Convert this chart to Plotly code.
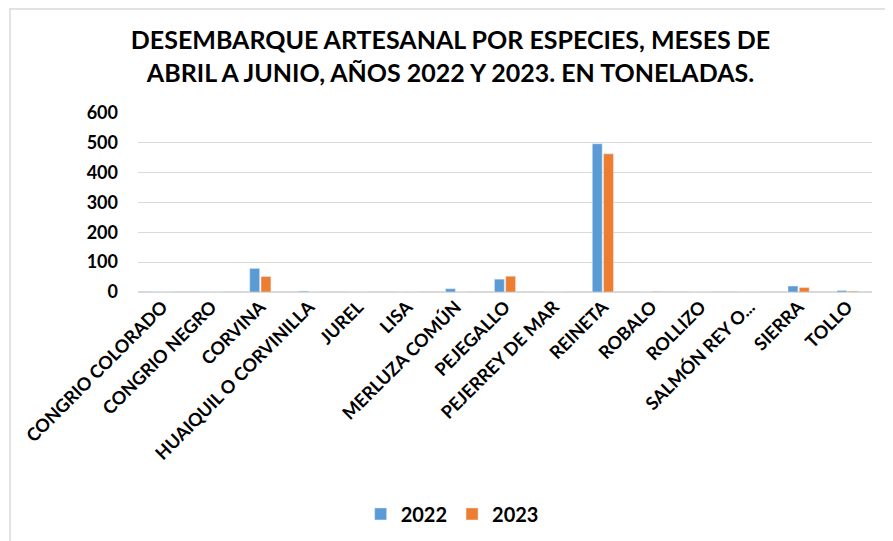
import plotly.graph_objects as go

categories = ["CONGRIO COLORADO", "CONGRIO NEGRO", "CORVINA", "HUAIQUIL O CORVINILLA",
              "JUREL", "LISA", "MERLUZA COMÚN", "PEJEGALLO", "PEJERREY DE MAR",
              "REINETA", "ROBALO", "ROLLIZO", "SALMÓN REY O...", "SIERRA", "TOLLO"]
v2022 = [0, 0, 79, 3, 0, 0, 11, 43, 0, 497, 0, 0, 0, 20, 5]
v2023 = [0, 0, 52, 0, 0, 0, 0, 53, 0, 463, 2, 0, 0, 15, 3]
y_ticks = [0, 100, 200, 300, 400, 500, 600]

FONT = "Lato"
fig = go.Figure()
fig.add_trace(go.Bar(x=categories, y=v2022, name="2022", marker_color="#5B9BD5"))
fig.add_trace(go.Bar(x=categories, y=v2023, name="2023", marker_color="#ED7D31"))

fig.update_layout(
    width=885, height=533,
    paper_bgcolor="white", plot_bgcolor="white",
    margin=dict(l=130, r=21, t=105, b=249, autoexpand=False),
    font=dict(family=FONT, color="black"),
    title=dict(text="DESEMBARQUE ARTESANAL POR ESPECIES, MESES DE<br>ABRIL A JUNIO, AÑOS 2022 Y 2023. EN TONELADAS.",
               x=0.5, xanchor="center", y=0.923, yanchor="middle",
               font=dict(size=25, family=FONT, color="black", weight="bold")),
    barmode="group", bargap=0.54, bargroupgap=0.12,
    legend=dict(orientation="h", x=0.428, xanchor="center", y=-1.24, yanchor="middle",
                font=dict(size=20, family=FONT, color="black", weight="bold"),
                traceorder="normal"),
    xaxis=dict(tickangle=-45, tickfont=dict(size=18, family=FONT, color="black", weight="bold"),
               showline=False, ticks="", showgrid=False, automargin=False),
    yaxis=dict(range=[0, 600], tickvals=y_ticks, showgrid=True, gridcolor="#D9D9D9",
               gridwidth=1, zeroline=True, zerolinecolor="#D9D9D9", automargin=False,
               tickfont=dict(size=18, family=FONT, color="black", weight="bold"), ticks="",
               ticklabelstandoff=19),
    shapes=[dict(type="rect", xref="paper", yref="paper", x0=-0.1744, x1=1.0259, y0=-1.42, y1=1.581,
                 line=dict(color="#D9D9D9", width=1.5))],
)
fig.write_html("out.html")
